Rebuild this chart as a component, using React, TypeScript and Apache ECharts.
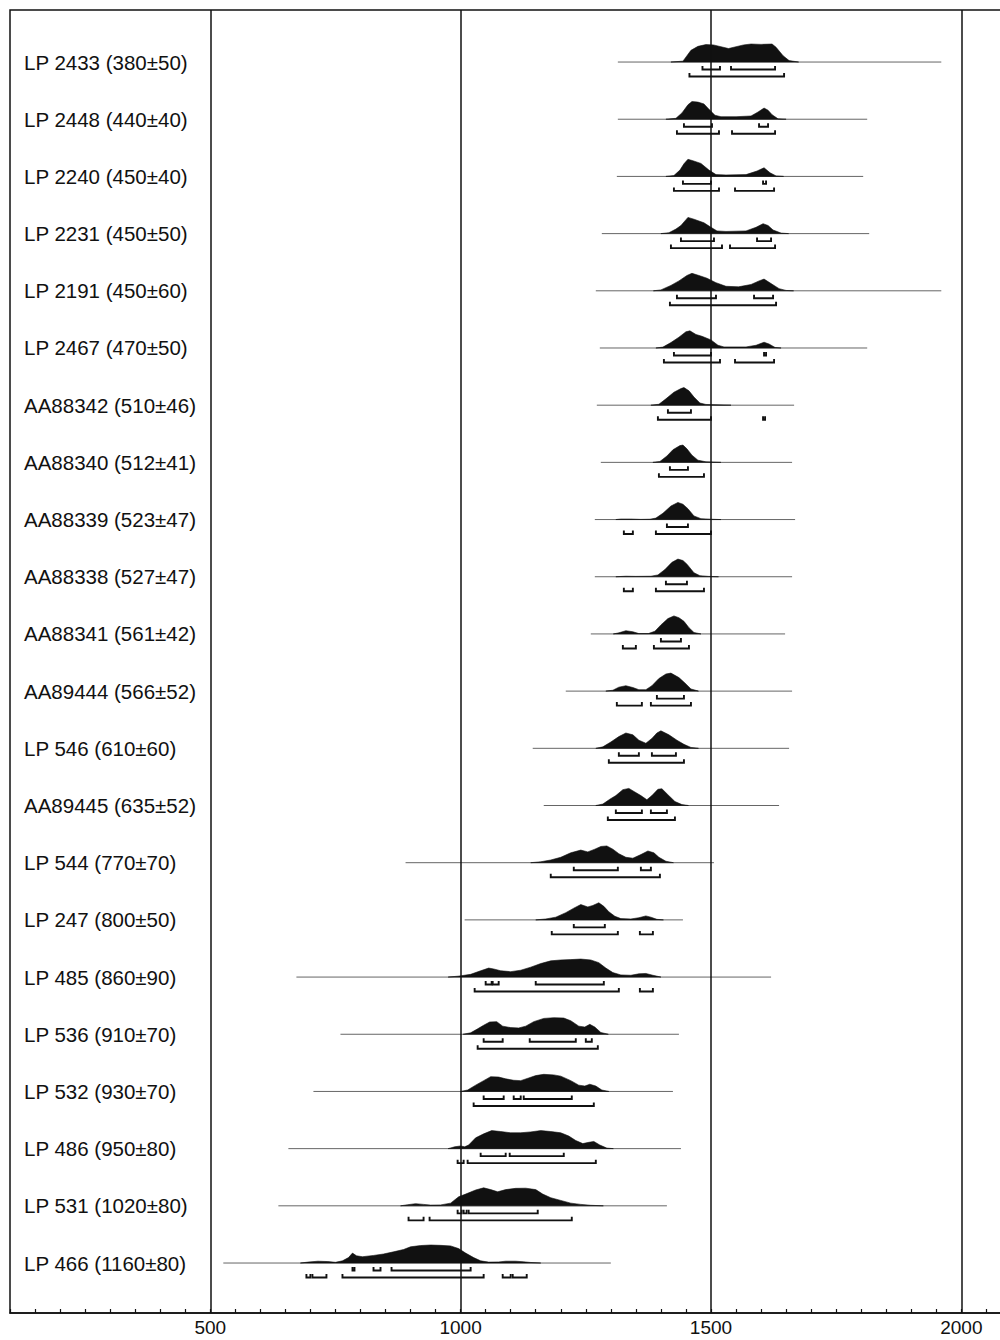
import React, { useEffect, useRef } from "react";
import * as echarts from "echarts";

const labels: string[] = [
  "LP 2433 (380±50)", "LP 2448 (440±40)", "LP 2240 (450±40)", "LP 2231 (450±50)",
  "LP 2191 (450±60)", "LP 2467 (470±50)", "AA88342 (510±46)", "AA88340 (512±41)",
  "AA88339 (523±47)", "AA88338 (527±47)", "AA88341 (561±42)", "AA89444 (566±52)",
  "LP 546 (610±60)", "AA89445 (635±52)", "LP 544 (770±70)", "LP 247 (800±50)",
  "LP 485 (860±90)", "LP 536 (910±70)", "LP 532 (930±70)", "LP 486 (950±80)",
  "LP 531 (1020±80)", "LP 466 (1160±80)",
];

const lineRanges: [number, number][] = [
  [1314, 1960], [1314, 1812], [1312, 1804], [1282, 1816], [1270, 1960], [1278, 1812],
  [1272, 1666], [1280, 1662], [1268, 1668], [1268, 1662], [1260, 1648], [1210, 1662],
  [1144, 1656], [1166, 1636], [890, 1506], [1008, 1444], [672, 1620], [760, 1436],
  [706, 1424], [656, 1440], [636, 1412], [526, 1300],
];

const densities: [number, number][][] = [
  [[1420,0],[1444,0.05],[1452,0.35],[1460,0.65],[1474,0.87],[1490,0.97],[1505,0.95],[1520,0.85],[1535,0.75],[1550,0.85],[1565,0.95],[1580,1.0],[1600,0.98],[1622,1.0],[1630,0.82],[1644,0.35],[1656,0.08],[1675,0]],
  [[1410,0],[1430,0.05],[1442,0.35],[1454,0.8],[1462,0.98],[1474,0.95],[1486,0.85],[1496,0.55],[1508,0.22],[1520,0.14],[1550,0.14],[1580,0.18],[1594,0.4],[1606,0.62],[1614,0.5],[1622,0.25],[1634,0.02],[1650,0]],
  [[1410,0],[1426,0.05],[1438,0.35],[1446,0.7],[1454,0.95],[1464,0.87],[1480,0.72],[1496,0.35],[1510,0.1],[1530,0.08],[1570,0.1],[1592,0.3],[1606,0.48],[1618,0.2],[1630,0.03],[1645,0]],
  [[1400,0],[1416,0.05],[1430,0.25],[1440,0.45],[1454,0.9],[1466,0.8],[1486,0.6],[1500,0.35],[1512,0.15],[1530,0.12],[1570,0.15],[1590,0.35],[1604,0.55],[1614,0.45],[1624,0.2],[1640,0.03],[1655,0]],
  [[1385,0],[1400,0.05],[1420,0.3],[1436,0.55],[1452,0.85],[1462,0.97],[1476,0.85],[1492,0.7],[1510,0.45],[1530,0.25],[1555,0.22],[1580,0.35],[1596,0.55],[1606,0.65],[1620,0.4],[1636,0.12],[1650,0.02],[1665,0]],
  [[1390,0],[1404,0.05],[1420,0.3],[1436,0.6],[1450,0.9],[1458,0.95],[1470,0.75],[1482,0.65],[1500,0.45],[1514,0.15],[1526,0.06],[1570,0.06],[1590,0.15],[1606,0.32],[1616,0.22],[1628,0.03],[1640,0]],
  [[1380,0],[1396,0.05],[1410,0.35],[1426,0.72],[1440,0.92],[1446,0.98],[1456,0.8],[1466,0.45],[1478,0.12],[1490,0.04],[1510,0.02],[1540,0]],
  [[1384,0],[1398,0.05],[1412,0.35],[1424,0.7],[1438,0.93],[1444,0.96],[1452,0.75],[1462,0.4],[1474,0.12],[1490,0.03],[1520,0]],
  [[1310,0],[1320,0.03],[1340,0.03],[1360,0.01],[1378,0.02],[1390,0.08],[1404,0.35],[1420,0.75],[1434,0.95],[1444,0.85],[1454,0.6],[1466,0.2],[1480,0.05],[1500,0.02],[1520,0]],
  [[1310,0],[1330,0.03],[1350,0.02],[1380,0.03],[1394,0.1],[1408,0.4],[1422,0.8],[1434,0.98],[1444,0.9],[1452,0.7],[1466,0.22],[1478,0.06],[1495,0.02],[1515,0]],
  [[1305,0],[1316,0.06],[1330,0.18],[1344,0.12],[1356,0.02],[1375,0.02],[1388,0.15],[1400,0.5],[1414,0.85],[1426,1.0],[1436,0.9],[1446,0.7],[1456,0.35],[1466,0.08],[1480,0]],
  [[1290,0],[1304,0.05],[1316,0.22],[1330,0.3],[1344,0.2],[1356,0.08],[1370,0.08],[1382,0.3],[1396,0.7],[1410,0.95],[1420,1.0],[1436,0.75],[1448,0.45],[1460,0.12],[1475,0]],
  [[1270,0],[1284,0.08],[1300,0.35],[1316,0.65],[1330,0.85],[1344,0.75],[1356,0.45],[1370,0.28],[1382,0.55],[1392,0.85],[1400,0.97],[1416,0.75],[1432,0.45],[1446,0.22],[1460,0.05],[1475,0]],
  [[1270,0],[1284,0.08],[1298,0.35],[1310,0.55],[1324,0.88],[1336,0.95],[1348,0.75],[1360,0.55],[1372,0.32],[1382,0.55],[1394,0.9],[1402,0.93],[1414,0.6],[1428,0.22],[1442,0.05],[1455,0]],
  [[1140,0],[1160,0.05],[1180,0.15],[1200,0.3],[1220,0.55],[1240,0.7],[1254,0.6],[1268,0.75],[1280,0.9],[1292,0.93],[1304,0.75],[1316,0.5],[1330,0.3],[1344,0.25],[1360,0.45],[1374,0.65],[1386,0.55],[1396,0.3],[1410,0.08],[1425,0]],
  [[1150,0],[1170,0.05],[1190,0.15],[1210,0.4],[1226,0.65],[1240,0.85],[1254,0.72],[1264,0.8],[1276,0.95],[1286,0.75],[1296,0.45],[1308,0.2],[1320,0.07],[1340,0.05],[1356,0.12],[1370,0.22],[1380,0.15],[1392,0.03],[1405,0]],
  [[975,0],[995,0.05],[1020,0.15],[1040,0.35],[1056,0.5],[1066,0.45],[1080,0.35],[1100,0.3],[1120,0.38],[1140,0.55],[1160,0.75],[1180,0.9],[1200,0.95],[1220,0.97],[1240,1.0],[1260,0.95],[1276,0.8],[1290,0.5],[1304,0.25],[1320,0.12],[1340,0.1],[1356,0.18],[1370,0.2],[1384,0.1],[1400,0]],
  [[1005,0],[1020,0.08],[1034,0.3],[1046,0.5],[1058,0.68],[1072,0.7],[1084,0.45],[1100,0.37],[1116,0.35],[1130,0.45],[1146,0.7],[1166,0.88],[1186,0.92],[1206,0.9],[1220,0.75],[1236,0.45],[1248,0.4],[1258,0.55],[1268,0.4],[1280,0.1],[1295,0]],
  [[1000,0],[1014,0.08],[1030,0.35],[1046,0.6],[1060,0.82],[1076,0.8],[1090,0.7],[1106,0.62],[1120,0.6],[1136,0.75],[1150,0.88],[1166,0.95],[1186,0.92],[1200,0.85],[1220,0.6],[1236,0.35],[1248,0.3],[1258,0.4],[1270,0.3],[1282,0.08],[1296,0]],
  [[975,0],[988,0.1],[1000,0.15],[1008,0.1],[1016,0.2],[1030,0.6],[1046,0.82],[1062,1.0],[1080,0.95],[1100,0.88],[1120,0.88],[1140,0.93],[1160,1.0],[1180,0.95],[1200,0.88],[1216,0.7],[1230,0.45],[1244,0.28],[1256,0.35],[1266,0.4],[1278,0.2],[1292,0.03],[1305,0]],
  [[880,0],[894,0.06],[910,0.12],[926,0.08],[940,0.04],[960,0.05],[980,0.15],[996,0.5],[1010,0.65],[1030,0.88],[1046,1.0],[1060,0.9],[1074,0.78],[1090,0.9],[1110,0.97],[1130,0.98],[1150,0.9],[1164,0.65],[1180,0.45],[1200,0.3],[1220,0.15],[1240,0.08],[1260,0.03],[1285,0]],
  [[680,0],[695,0.05],[715,0.1],[735,0.08],[750,0.04],[764,0.12],[776,0.3],[784,0.55],[792,0.4],[804,0.35],[826,0.42],[846,0.5],[866,0.62],[886,0.75],[900,0.9],[920,0.97],[940,1.0],[960,0.98],[980,0.95],[996,0.8],[1010,0.55],[1026,0.3],[1040,0.12],[1056,0.05],[1076,0.06],[1090,0.1],[1110,0.1],[1125,0.07],[1140,0.03],[1160,0]],
];

const ranges68: [number, number][][] = [
  [[1483, 1518], [1540, 1628]],
  [[1446, 1502], [1596, 1614]],
  [[1444, 1500], [1604, 1610]],
  [[1440, 1506], [1592, 1620]],
  [[1432, 1510], [1586, 1624]],
  [[1426, 1500], [1606, 1610]],
  [[1414, 1460]],
  [[1418, 1454]],
  [[1412, 1454]],
  [[1410, 1452]],
  [[1400, 1440]],
  [[1392, 1446]],
  [[1316, 1356], [1382, 1430]],
  [[1310, 1362], [1380, 1412]],
  [[1226, 1314], [1360, 1380]],
  [[1226, 1288]],
  [[1050, 1062], [1064, 1076], [1150, 1286]],
  [[1046, 1084], [1138, 1230], [1250, 1262]],
  [[1046, 1086], [1106, 1120], [1126, 1222]],
  [[1040, 1090], [1098, 1206]],
  [[994, 1002], [1006, 1012], [1016, 1154]],
  [[784, 788], [826, 840], [862, 1020]],
];

const ranges95: [number, number][][] = [
  [[1457, 1646]],
  [[1432, 1516], [1542, 1628]],
  [[1426, 1516], [1548, 1626]],
  [[1420, 1522], [1538, 1628]],
  [[1418, 1630]],
  [[1406, 1518], [1548, 1626]],
  [[1394, 1500], [1604, 1608]],
  [[1396, 1486]],
  [[1326, 1344], [1390, 1500]],
  [[1326, 1344], [1390, 1486]],
  [[1324, 1350], [1386, 1456]],
  [[1312, 1362], [1380, 1460]],
  [[1296, 1446]],
  [[1294, 1428]],
  [[1180, 1398]],
  [[1182, 1314], [1358, 1384]],
  [[1028, 1316], [1358, 1384]],
  [[1034, 1274]],
  [[1026, 1266]],
  [[994, 1006], [1014, 1270]],
  [[896, 926], [938, 1222]],
  [[692, 700], [704, 732], [764, 1046], [1084, 1100], [1104, 1132]],
];

const gridYears: number[] = [500, 1000, 1500, 2000];
const xMin = 100;
const xMax = 2100;

const INK = "#111";
const FONT = "'Liberation Sans', Arial, Helvetica, sans-serif";

export default function App() {
  const ref = useRef<HTMLDivElement>(null);

  useEffect(() => {
    if (!ref.current) return;
    const chart = echarts.init(ref.current, undefined, { renderer: "svg" });

    const renderItem = (params: any, api: any) => {
      const i = params.dataIndex;
      const row = i + 1;
      const X = (yr: number) => api.coord([yr, row])[0];
      const base = api.coord([xMin, row])[1];
      const peak = api.size([0, 0.315])[1];
      const children: any[] = [];

      const [ls, le] = lineRanges[i];
      children.push({
        type: "line",
        shape: { x1: X(ls), y1: base, x2: X(le), y2: base },
        style: { stroke: "#666", lineWidth: 1 },
      });

      const d = densities[i];
      const pts: number[][] = [[X(d[0][0]), base]];
      d.forEach(([yr, h]) => pts.push([X(yr), base - h * peak]));
      pts.push([X(d[d.length - 1][0]), base]);
      children.push({
        type: "polygon",
        shape: { points: pts },
        style: { fill: INK, stroke: INK, lineWidth: 0.6 },
      });

      const bracket = (rs: [number, number][], off: number) => {
        rs.forEach(([a, b]) => {
          const x1 = X(a);
          const x2 = Math.max(X(b), x1 + 2);
          children.push({
            type: "polyline",
            shape: {
              points: [
                [x1, base + off - 3.5],
                [x1, base + off],
                [x2, base + off],
                [x2, base + off - 3.5],
              ],
            },
            style: { stroke: INK, lineWidth: 1.9, fill: null },
          });
        });
      };
      bracket(ranges68[i], 7.5);
      bracket(ranges95[i], 14.5);

      children.push({
        type: "text",
        x: X(xMin) + 14,
        y: base,
        style: {
          text: labels[i],
          fontSize: 20.5,
          fontFamily: FONT,
          fill: INK,
          align: "left",
          verticalAlign: "middle",
        },
      });

      return { type: "group", children };
    };

    chart.setOption({
      animation: false,
      backgroundColor: "#fff",
      grid: {
        left: 10,
        width: 1001.4,
        top: 10,
        bottom: 27,
        outerBoundsMode: "none",
        containLabel: false,
        show: true,
        borderColor: INK,
        borderWidth: 1.5,
      },
      xAxis: {
        type: "value",
        min: xMin,
        max: xMax,
        interval: 50,
        axisLine: { show: true, lineStyle: { color: INK, width: 1.5 } },
        axisTick: { show: true, inside: true, length: 4, lineStyle: { color: INK, width: 1.2 } },
        axisLabel: {
          show: true,
          interval: 0,
          margin: 5,
          fontSize: 19,
          fontFamily: FONT,
          color: INK,
          formatter: (v: number) => (v % 500 === 0 ? String(v) : ""),
        },
        splitLine: { show: false },
      },
      yAxis: {
        type: "value",
        min: 0.09,
        max: 22.874,
        inverse: true,
        axisLine: { show: false },
        axisTick: { show: false },
        axisLabel: { show: false },
        splitLine: { show: false },
      },
      series: [
        {
          type: "custom",
          renderItem,
          data: labels.map((_, i) => [i]),
          silent: true,
          markLine: {
            silent: true,
            symbol: ["none", "none"],
            label: { show: false },
            lineStyle: { color: INK, width: 1.5, type: "solid" },
            data: gridYears.map((v) => ({ xAxis: v })),
          },
        },
      ],
    });

    return () => chart.dispose();
  }, []);

  return (
    <div
      ref={ref}
      style={{ position: "absolute", left: 0, top: 0, width: 1000, height: 1340, background: "#fff" }}
    />
  );
}
